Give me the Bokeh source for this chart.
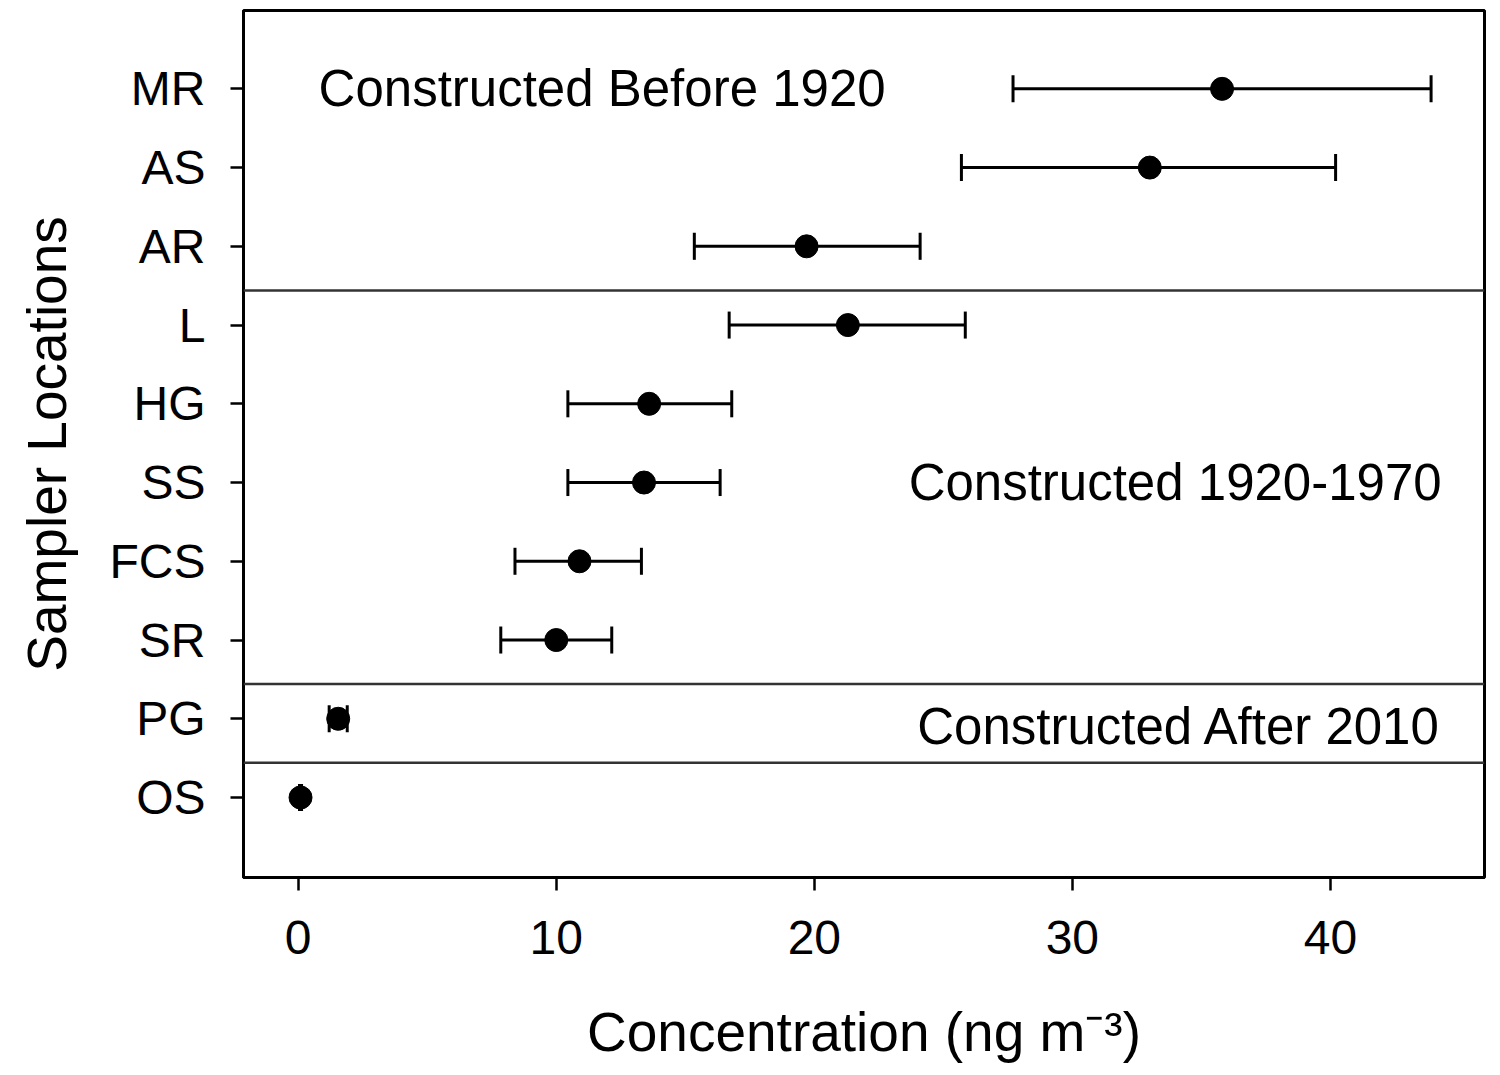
from bokeh.plotting import figure
from bokeh.models import (ColumnDataSource, Whisker, TeeHead, Span, Label,
                          FixedTicker, Range1d)
from bokeh.embed import file_html
from bokeh.resources import INLINE

# ---- data ----
locations = ["MR", "AS", "AR", "L", "HG", "SS", "FCS", "SR", "PG", "OS"]
mean_conc = [35.8, 33.0, 19.7, 21.3, 13.6, 13.4, 10.9, 10.0, 1.55, 0.09]
lower_conc = [27.7, 25.7, 15.35, 16.7, 10.45, 10.45, 8.4, 7.85, 1.2, 0.05]
upper_conc = [43.9, 40.2, 24.1, 25.85, 16.8, 16.35, 13.3, 12.15, 1.9, 0.13]
x_ticks = [0, 10, 20, 30, 40]
group_names = ["Constructed Before 1920", "Constructed 1920-1970", "Constructed After 2010"]
group_sizes = [3, 5, 1, 1]

FONT = "Liberation Sans"
n = len(locations)
ypos = [n - i for i in range(n)]

src = ColumnDataSource(dict(y=ypos, mean=mean_conc, lower=lower_conc,
                            upper=upper_conc, name=locations))

p = figure(width=1498, height=1073, output_backend="svg", toolbar_location=None,
           x_range=Range1d(-2.12, 45.97), y_range=Range1d(-0.016, 10.995),
           min_border_left=243, min_border_right=14, min_border_top=10,
           min_border_bottom=196)

p.xgrid.visible = False
p.ygrid.visible = False
p.outline_line_color = "black"
p.outline_line_width = 3
p.background_fill_color = "white"
p.border_fill_color = "white"

# separators between construction groups
b = 0
for s in group_sizes[:-1]:
    b += s
    yb = (ypos[b - 1] + ypos[b]) / 2 - 0.06
    p.add_layout(Span(location=yb, dimension="width", line_color="#333333",
                      line_width=2.5))

# error bars
w = Whisker(source=src, base="y", lower="lower", upper="upper",
            dimension="width", line_color="black", line_width=3,
            lower_head=TeeHead(size=27, line_color="black", line_width=3),
            upper_head=TeeHead(size=27, line_color="black", line_width=3))
p.add_layout(w)

p.scatter(x="mean", y="y", source=src, size=23, color="black", marker="circle")

# group annotations
p.add_layout(Label(x=0.79, y=ypos[0], text=group_names[0], text_font=FONT,
                   text_font_size="51px", text_baseline="middle",
                   text_align="left", text_color="black"))
p.add_layout(Label(x=44.31, y=ypos[5], text=group_names[1], text_font=FONT,
                   text_font_size="51px", text_baseline="middle",
                   text_align="right", text_color="black"))
p.add_layout(Label(x=44.31, y=ypos[8] - 0.1, text=group_names[2], text_font=FONT,
                   text_font_size="51px", text_baseline="middle",
                   text_align="right", text_color="black"))

# axes
p.xaxis.ticker = FixedTicker(ticks=x_ticks)
p.yaxis.ticker = FixedTicker(ticks=ypos)
p.yaxis.major_label_overrides = {y: nm for y, nm in zip(ypos, locations)}
p.xaxis.axis_label = "Concentration (ng m\u207b\u00b3)"
p.yaxis.axis_label = "Sampler Locations"

for ax in (p.xaxis, p.yaxis):
    ax.axis_line_color = "black"
    ax.axis_line_width = 3
    ax.major_tick_line_color = "black"
    ax.major_tick_line_width = 2.5
    ax.major_tick_out = 13
    ax.major_tick_in = 0
    ax.minor_tick_line_color = None
    ax.major_label_text_font = FONT
    ax.major_label_text_font_size = "48px"
    ax.major_label_text_color = "black"
    ax.axis_label_text_font = FONT
    ax.axis_label_text_font_size = "55px"
    ax.axis_label_text_font_style = "normal"
    ax.axis_label_text_color = "black"

p.xaxis.major_label_standoff = 30
p.xaxis.axis_label_standoff = 44
p.yaxis.major_label_standoff = 25
p.yaxis.axis_label_standoff = 29

open("out.html", "w").write(file_html(p, INLINE))
